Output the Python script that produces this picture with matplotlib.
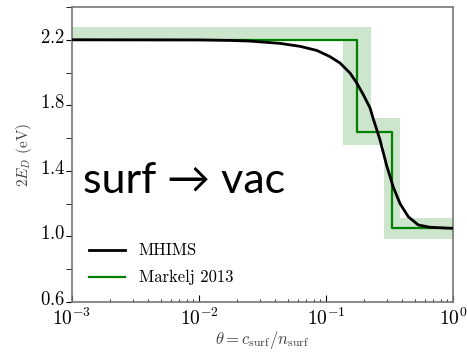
import matplotlib
matplotlib.use("Agg")
import matplotlib.pyplot as plt
import matplotlib.transforms as mtrans
from matplotlib.ticker import MultipleLocator, LogLocator, NullFormatter
import numpy as np

plt.rcParams['font.family'] = 'serif'
plt.rcParams['font.serif'] = ['cmr10']
plt.rcParams['mathtext.fontset'] = 'cm'
plt.rcParams['axes.formatter.use_mathtext'] = True
plt.rcParams['axes.unicode_minus'] = False

# MHIMS curve
theta_mhims = [1e-3, 0.01, 0.0175, 0.0252, 0.0435, 0.0624, 0.0846, 0.107, 0.129,
               0.155, 0.175, 0.197, 0.222, 0.235, 0.266, 0.301, 0.339, 0.383,
               0.445, 0.533, 0.659, 0.946, 1.0]
ed_mhims = [2.200, 2.199, 2.196, 2.192, 2.178, 2.160, 2.135, 2.098, 2.058,
            1.996, 1.935, 1.864, 1.785, 1.720, 1.590, 1.430, 1.300, 1.200,
            1.120, 1.070, 1.056, 1.050, 1.050]

# Markelj 2013 staircase
step_theta = [0.175, 0.33]
step_factor = [1.29, 1.156]       # multiplicative uncertainty on step positions
levels = [2.2, 1.64, 1.05]
level_err_up = [0.08, 0.08, 0.065]
level_err_lo = [0.005, 0.08, 0.065]

xmin, xmax = 1e-3, 1.0

fig = plt.figure(figsize=(4.67, 3.54), dpi=100)
ax = fig.add_axes([72/467, 1-302/354, (453-72)/467, (302-7)/354])

# uncertainty band as one polygon
px = [xmin]
py = [levels[0] + level_err_up[0]]
for i in range(len(step_theta)):
    px += [step_theta[i]*step_factor[i], step_theta[i]*step_factor[i]]
    py += [levels[i] + level_err_up[i], levels[i+1] + level_err_up[i+1]]
px += [xmax, xmax]
py += [levels[-1] + level_err_up[-1], levels[-1] - level_err_lo[-1]]
for i in reversed(range(len(step_theta))):
    px += [step_theta[i]/step_factor[i], step_theta[i]/step_factor[i]]
    py += [levels[i+1] - level_err_lo[i+1], levels[i] - level_err_lo[i]]
px += [xmin]
py += [levels[0] - level_err_lo[0]]
ax.fill(px, py, color='green', alpha=0.2, lw=0)

# staircase line
sx = [xmin] + step_theta + [xmax]
ax.step(sx, levels + [levels[-1]], where='post', color='green', lw=1.6,
        label='Markelj 2013', zorder=3)
ax.plot(theta_mhims, ed_mhims, color='black', lw=2.0, label='MHIMS', zorder=4)

ax.set_xscale('log')
ax.set_xlim(xmin, xmax)
ax.set_ylim(0.6, 2.4)
ax.yaxis.set_major_locator(MultipleLocator(0.4, offset=0.2))
ax.yaxis.set_minor_locator(MultipleLocator(0.2))
ax.xaxis.set_minor_locator(LogLocator(base=10, subs=np.arange(2, 10)))
ax.xaxis.set_minor_formatter(NullFormatter())
ax.tick_params(axis='x', which='both', direction='in', labelsize=14, pad=4)
ax.tick_params(axis='x', which='major', length=5)
ax.tick_params(axis='x', which='minor', length=2.5)
ax.tick_params(axis='y', which='both', direction='out', length=4, labelsize=13.5, pad=1)
for s in ax.spines.values():
    s.set_color('#777777')
    s.set_linewidth(1.2)

# lift y tick labels a touch so 0.6 clears 10^-3
off = mtrans.ScaledTranslation(0, 3/72, fig.dpi_scale_trans)
for lab in ax.yaxis.get_majorticklabels():
    lab.set_transform(lab.get_transform() + off)

ax.set_xlabel(r'$\theta = c_\mathrm{surf}/n_\mathrm{surf}$', fontsize=12, color='#444444', labelpad=0)
ax.set_ylabel(r'$2E_D$ (eV)', fontsize=11, color='#444444', labelpad=4)

h, l = ax.get_legend_handles_labels()
ax.legend(h[::-1], l[::-1], loc='lower left', frameon=False, fontsize=12,
          handlelength=2.2, borderaxespad=0.6, labelspacing=0.7)

ax.text(0.03, 0.41, 'surf \u2192 vac', transform=ax.transAxes, fontsize=31,
        family=['Lato', 'DejaVu Sans'], color='black', va='center', ha='left')

fig.savefig('out.png', dpi=100)
